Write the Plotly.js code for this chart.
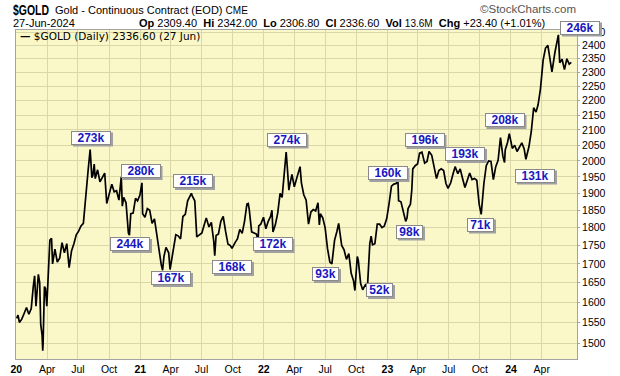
<!DOCTYPE html>
<html>
<head>
<meta charset="utf-8">
<script src="https://cdn.plot.ly/plotly-3.0.1.min.js"></script>
<style>
  html, body { margin: 0; padding: 0; background: #ffffff; }
  #chart { width: 620px; height: 376px; }
</style>
</head>
<body>
<div id="chart"></div>
<script>
// ---------------- DATA ----------------
const dates2020 = ['2020-01-02','2020-01-06','2020-01-10','2020-01-17','2020-01-24','2020-01-31','2020-02-07','2020-02-14','2020-02-20','2020-02-24','2020-02-28','2020-03-06','2020-03-10','2020-03-13','2020-03-17','2020-03-19','2020-03-20','2020-03-24','2020-03-27','2020-03-31','2020-04-03','2020-04-09','2020-04-14','2020-04-17','2020-04-24','2020-05-01','2020-05-08','2020-05-15','2020-05-22','2020-05-29','2020-06-05','2020-06-12','2020-06-19','2020-06-26','2020-07-03','2020-07-10','2020-07-17','2020-07-24','2020-07-31','2020-08-06','2020-08-11','2020-08-14','2020-08-18','2020-08-21','2020-08-28','2020-09-04','2020-09-11','2020-09-18','2020-09-24','2020-10-02','2020-10-09','2020-10-16','2020-10-23','2020-10-30','2020-11-06','2020-11-09','2020-11-13','2020-11-20','2020-11-27','2020-11-30','2020-12-04','2020-12-11','2020-12-18','2020-12-24','2020-12-31'];
const close2020 = [1560,1568,1550,1558,1572,1587,1570,1584,1640,1668,1590,1672,1650,1545,1520,1482,1500,1640,1635,1590,1640,1765,1770,1700,1740,1705,1715,1758,1730,1755,1690,1735,1755,1780,1790,1805,1812,1900,1970,2036,1948,1955,1990,1945,1972,1935,1948,1962,1870,1905,1928,1905,1908,1880,1950,1862,1888,1872,1785,1779,1840,1842,1885,1878,1895];

const dates2021 = ['2021-01-06','2021-01-08','2021-01-15','2021-01-22','2021-01-29','2021-02-05','2021-02-12','2021-02-19','2021-02-26','2021-03-04','2021-03-08','2021-03-12','2021-03-18','2021-03-26','2021-03-30','2021-04-09','2021-04-16','2021-04-23','2021-04-30','2021-05-07','2021-05-14','2021-05-21','2021-06-01','2021-06-04','2021-06-11','2021-06-17','2021-06-25','2021-07-02','2021-07-09','2021-07-15','2021-07-23','2021-07-30','2021-08-06','2021-08-09','2021-08-13','2021-08-20','2021-08-27','2021-09-03','2021-09-10','2021-09-17','2021-09-24','2021-09-29','2021-10-08','2021-10-15','2021-10-22','2021-10-29','2021-11-05','2021-11-12','2021-11-16','2021-11-19','2021-11-26','2021-12-03','2021-12-10','2021-12-15','2021-12-17','2021-12-23','2021-12-31'];
const close2021 = [1932,1840,1830,1855,1850,1812,1825,1778,1732,1698,1683,1720,1745,1730,1685,1745,1780,1777,1768,1832,1838,1878,1900,1892,1878,1774,1780,1785,1808,1828,1802,1815,1762,1722,1778,1782,1818,1832,1790,1754,1750,1742,1758,1768,1795,1784,1818,1868,1870,1852,1788,1784,1782,1765,1805,1810,1830];

const dates2022 = ['2022-01-07','2022-01-14','2022-01-21','2022-01-25','2022-01-28','2022-02-04','2022-02-11','2022-02-18','2022-02-24','2022-03-01','2022-03-04','2022-03-08','2022-03-11','2022-03-16','2022-03-18','2022-03-25','2022-04-01','2022-04-08','2022-04-14','2022-04-18','2022-04-22','2022-04-29','2022-05-06','2022-05-13','2022-05-20','2022-05-27','2022-06-03','2022-06-10','2022-06-14','2022-06-17','2022-06-24','2022-07-01','2022-07-08','2022-07-15','2022-07-21','2022-07-29','2022-08-05','2022-08-10','2022-08-19','2022-08-26','2022-09-02','2022-09-09','2022-09-16','2022-09-23','2022-09-27','2022-09-30','2022-10-04','2022-10-07','2022-10-14','2022-10-20','2022-10-28','2022-11-03','2022-11-10','2022-11-14','2022-11-18','2022-11-25','2022-12-02','2022-12-09','2022-12-16','2022-12-23','2022-12-30'];
const close2022 = [1797,1818,1832,1850,1788,1808,1842,1900,1888,1945,1968,2028,1985,1910,1922,1958,1920,1945,1975,1982,1932,1896,1880,1810,1845,1852,1848,1872,1808,1840,1828,1800,1742,1705,1700,1765,1790,1812,1750,1738,1712,1728,1675,1655,1630,1672,1720,1710,1648,1632,1645,1638,1755,1776,1752,1755,1810,1810,1800,1805,1826];

const dates2023 = ['2023-01-06','2023-01-13','2023-01-20','2023-01-27','2023-02-01','2023-02-03','2023-02-10','2023-02-17','2023-02-24','2023-02-28','2023-03-03','2023-03-10','2023-03-14','2023-03-17','2023-03-24','2023-03-31','2023-04-06','2023-04-13','2023-04-21','2023-04-28','2023-05-04','2023-05-12','2023-05-19','2023-05-26','2023-06-02','2023-06-09','2023-06-16','2023-06-23','2023-06-29','2023-07-07','2023-07-14','2023-07-20','2023-07-28','2023-08-04','2023-08-11','2023-08-18','2023-08-25','2023-09-01','2023-09-08','2023-09-15','2023-09-22','2023-09-29','2023-10-05','2023-10-13','2023-10-20','2023-10-27','2023-11-03','2023-11-10','2023-11-17','2023-11-24','2023-12-01','2023-12-08','2023-12-13','2023-12-15','2023-12-22','2023-12-27'];
const close2023 = [1870,1922,1928,1930,1945,1878,1875,1842,1818,1828,1855,1868,1910,1975,1985,1990,2025,2028,1993,1998,2030,2018,1980,1945,1970,1975,1970,1930,1915,1932,1960,1982,1960,1975,1945,1918,1940,1962,1942,1945,1940,1868,1838,1930,1985,2000,1998,1942,1982,2002,2075,2015,1995,2035,2060,2088];

const dates2024 = ['2024-01-05','2024-01-12','2024-01-19','2024-01-26','2024-02-02','2024-02-09','2024-02-14','2024-02-23','2024-03-01','2024-03-08','2024-03-15','2024-03-21','2024-03-28','2024-04-05','2024-04-12','2024-04-19','2024-04-26','2024-05-01','2024-05-10','2024-05-17','2024-05-20','2024-05-24','2024-05-31','2024-06-07','2024-06-14','2024-06-21','2024-06-27'];
const close2024 = [2040,2050,2030,2045,2058,2038,2005,2045,2095,2175,2160,2185,2240,2345,2390,2400,2350,2302,2375,2418,2440,2335,2348,2310,2350,2330,2336.6];

// x-axis ticks (quarters) and labels
const xTickDates = ['2020-01-01','2020-04-01','2020-07-01','2020-10-01','2021-01-01','2021-04-01','2021-07-01','2021-10-01','2022-01-01','2022-04-01','2022-07-01','2022-10-01','2023-01-01','2023-04-01','2023-07-01','2023-10-01','2024-01-01','2024-04-01'];
const xTickLabels = ['<b>20</b>','Apr','Jul','Oct','<b>21</b>','Apr','Jul','Oct','<b>22</b>','Apr','Jul','Oct','<b>23</b>','Apr','Jul','Oct','<b>24</b>','Apr'];
// y-axis ticks
const yTickValues = [1500,1550,1600,1650,1700,1750,1800,1850,1900,1950,2000,2050,2100,2150,2200,2250,2300,2350,2400,2450];

// open-interest callouts
const calloutLabels = ['273k','280k','215k','244k','167k','168k','172k','274k','93k','52k','160k','98k','196k','193k','71k','208k','131k','246k'];

// ---------------- LAYOUT HELPERS ----------------
const PL = 16, PR = 577, PT = 30, PB = 359;
const px = v => (v - PL) / (PR - PL);
const py = v => (PB - v) / (PB - PT);

// callout box centres, in pixels (layout only)
const calloutPos = [[91,137.5],[140.5,171],[193,181],[130,244],[171,278],[232,267],[272.5,244],[286.5,139.5],[325.5,274],[379.5,290],[387.5,173],[409.5,231.5],[424.5,140],[465,154],[480.5,224.5],[504.5,120],[535,175.5],[580,27.5]];

const dates = [].concat(dates2020, dates2021, dates2022, dates2023, dates2024);
const closes = [].concat(close2020, close2021, close2022, close2023, close2024);

const trace = {
  x: dates, y: closes, type: 'scatter', mode: 'lines',
  line: {color: '#000000', width: 1.7},
  name: '$GOLD (Daily)', hoverinfo: 'skip'
};

const AR = 'Liberation Sans, Arial, sans-serif';
const annotations = [];
const shapes = [];

// header
function txt(text, x, y, size, color, family, anchor, weight) {
  annotations.push({
    text: text, xref: 'paper', yref: 'paper', x: px(x), y: py(y),
    xanchor: anchor || 'left', yanchor: 'middle', showarrow: false,
    align: anchor === 'right' ? 'right' : 'left', borderpad: 0,
    font: {family: family || AR, size: size, color: color || '#000', weight: weight || 'normal'}
  });
}
txt('$GOLD', 12, 9, 15, '#000', AR, 'left', 'bold');
txt('Gold - Continuous Contract (EOD) <span style="font-size:10px">CME</span>', 54, 9.5, 11, '#000');
txt('©StockCharts.com', 577, 9, 11.5, '#555', AR, 'right');
txt('27-Jun-2024', 12, 23, 11, '#000');
txt('<b>Op</b> 2309.40  <b>Hi</b> 2342.00  <b>Lo</b> 2306.80  <b>Cl</b> 2336.60  <b>Vol</b> <span style="font-size:10px">13.6M</span>  <b>Chg</b> +23.40 (+1.01%)', 138, 23, 11, '#000');
txt('<b>—</b> $GOLD (Daily) 2336.60 (27 Jun)', 19, 36, 10.5, '#000', 'DejaVu Sans, Verdana, sans-serif');

// callouts with drop shadow
calloutLabels.forEach((lab, i) => {
  const w = lab.length >= 4 ? 36 : 23;
  const W = w + 4, H = 14;
  const pos = calloutPos[i];
  shapes.push({
    type: 'rect', xref: 'paper', yref: 'paper', layer: 'above',
    x0: px(pos[0] - W / 2 + 2), x1: px(pos[0] + W / 2 + 2),
    y0: py(pos[1] + H / 2 + 2), y1: py(pos[1] - H / 2 + 2),
    fillcolor: '#a0a0a0', line: {width: 0}
  });
  annotations.push({
    xref: 'paper', yref: 'paper', x: px(pos[0]), y: py(pos[1]),
    xanchor: 'center', yanchor: 'middle', showarrow: false,
    width: w, height: 10, borderpad: 1, borderwidth: 1,
    text: '<b>' + lab + '</b>',
    bgcolor: '#ffffff', bordercolor: '#8a8a8a',
    font: {family: AR, size: 12, color: '#1818C0'}
  });
});

const GRID = '#DAD7A8';
const layout = {
  width: 620, height: 376,
  margin: {l: PL, r: 620 - PR, t: PT, b: 376 - PB, pad: 0},
  paper_bgcolor: '#ffffff',
  plot_bgcolor: '#FAF7C9',
  showlegend: false,
  font: {family: AR, size: 11, color: '#000'},
  xaxis: {
    type: 'date', range: ['2019-12-31', '2024-07-14'],
    tickmode: 'array', tickvals: xTickDates, ticktext: xTickLabels,
    showgrid: true, gridcolor: GRID, gridwidth: 1,
    showline: true, linecolor: '#A3A3A3', linewidth: 1, mirror: true,
    ticks: '', zeroline: false,
    tickfont: {family: AR, size: 10.5, color: '#000'}
  },
  yaxis: {
    type: 'log', side: 'right',
    range: [Math.log10(1463), Math.log10(2459)],
    tickmode: 'array', tickvals: yTickValues, ticktext: yTickValues.map(String),
    showgrid: true, gridcolor: GRID, gridwidth: 1,
    showline: true, linecolor: '#A3A3A3', linewidth: 1, mirror: true,
    ticks: 'outside', ticklen: 2, tickcolor: '#A3A3A3', zeroline: false,
    tickfont: {family: AR, size: 10.5, color: '#000'}
  },
  shapes: shapes,
  annotations: annotations
};

Plotly.newPlot('chart', [trace], layout, {staticPlot: true, displayModeBar: false}).then(gd => {
  // StockCharts uses a condensed bold face for the symbol; compress it to match
  gd.querySelectorAll('.annotation-text').forEach(t => {
    if (t.textContent === '$GOLD') {
      t.setAttribute('textLength', '36');
      t.setAttribute('lengthAdjust', 'spacingAndGlyphs');
    }
  });
});
</script>
</body>
</html>
